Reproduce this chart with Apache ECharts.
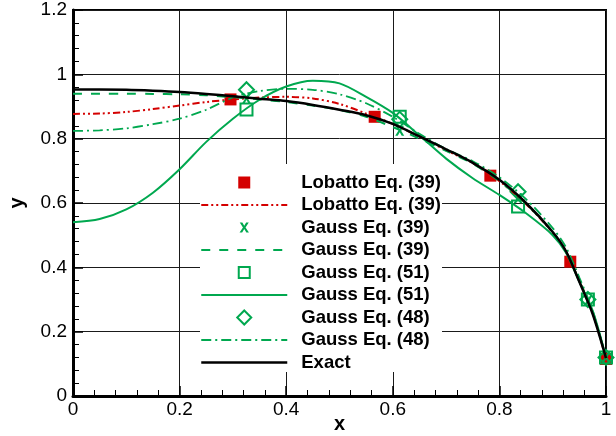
<!DOCTYPE html>
<html>
<head>
<meta charset="utf-8">
<style>
  html, body { margin: 0; padding: 0; background: #fff; }
  #chart { width: 616px; height: 436px; }
</style>
<script src="https://cdn.jsdelivr.net/npm/echarts@6/dist/echarts.min.js"></script>
</head>
<body>
<div id="chart"></div>
<script>
// Collocation nodes
const lobattoX = [0.2955, 0.566, 0.783, 0.933, 1.0];
const gaussX = [0.3255, 0.613, 0.835, 0.966, 1.0];

// Nodal values
const lobattoPts = [0.922, 0.868, 0.685, 0.4175, 0.115];
const gauss39Pts = [0.925, 0.825, 0.615, 0.295, 0.12];
const gauss51Pts = [0.891, 0.868, 0.589, 0.30, 0.12];
const gauss48Pts = [0.952, 0.86, 0.635, 0.30, 0.12];

// Sampling abscissae for the continuous curves
const curveX = [0, 0.05, 0.1, 0.15, 0.2, 0.25, 0.3, 0.35, 0.4, 0.45, 0.5, 0.55,
                0.6, 0.65, 0.7, 0.75, 0.8, 0.85, 0.9, 0.925, 0.95, 0.975, 1.0];

const lobattoCurve = [0.877, 0.878, 0.883, 0.892, 0.903, 0.914, 0.922, 0.928, 0.930, 0.925, 0.908, 0.878,
                      0.846, 0.806, 0.764, 0.724, 0.668, 0.597, 0.508, 0.448, 0.358, 0.26, 0.115];
const gauss39Curve = [0.940, 0.940, 0.940, 0.939, 0.938, 0.935, 0.929, 0.922, 0.914, 0.903, 0.889, 0.868,
                      0.836, 0.800, 0.762, 0.722, 0.668, 0.598, 0.510, 0.448, 0.357, 0.258, 0.12];
const gauss51Curve = [0.540, 0.550, 0.580, 0.632, 0.705, 0.790, 0.862, 0.921, 0.962, 0.980, 0.972, 0.930,
                      0.880, 0.810, 0.738, 0.677, 0.625, 0.568, 0.500, 0.445, 0.355, 0.265, 0.12];
const gauss48Curve = [0.824, 0.826, 0.832, 0.845, 0.862, 0.890, 0.928, 0.948, 0.955, 0.952, 0.938, 0.910,
                      0.868, 0.815, 0.768, 0.730, 0.680, 0.612, 0.522, 0.462, 0.368, 0.265, 0.12];
const exactCurve   = [0.953, 0.953, 0.952, 0.949, 0.945, 0.939, 0.932, 0.924, 0.917, 0.905, 0.890, 0.873,
                      0.846, 0.807, 0.767, 0.725, 0.672, 0.600, 0.510, 0.450, 0.355, 0.255, 0.118];

// Legend labels, in display order
const legendLabels = ['Lobatto Eq. (39)', 'Lobatto Eq. (39)', 'Gauss Eq. (39)', 'Gauss Eq. (39)',
                      'Gauss Eq. (51)', 'Gauss Eq. (51)', 'Gauss Eq. (48)', 'Gauss Eq. (48)', 'Exact'];

const RED = '#d40000';
const GREEN = '#00a84f';

const zip = (xs, ys) => xs.map((x, i) => [x, ys[i]]);
// Series ids keep each legend row distinct; the legend shows only the label part
const sid = (i) => legendLabels[i] + '#' + i;

const crossPath = 'path://M0,0h2.6l1.9,3.3l1.9,-3.3h2.6l-3.2,4.9l3.4,5.1h-2.6l-2.1,-3.5l-2.1,3.5h-2.6l3.4,-5.1z';
const crossLegend = 'path://M0,0M16,16M3.5,3h2.6l1.9,3.3l1.9,-3.3h2.6l-3.2,4.9l3.4,5.1h-2.6l-2.1,-3.5l-2.1,3.5h-2.6l3.4,-5.1z';

function lineSeries(i, ys, color, width, dash) {
  return {
    name: sid(i), type: 'line', data: zip(curveX, ys),
    smooth: 0.3, symbol: 'none', showSymbol: false,
    lineStyle: { color: color, width: width, type: dash || 'solid' },
    itemStyle: { color: color },
    emphasis: { disabled: true }, animation: false
  };
}
function pointSeries(i, xs, ys, symbol, size, itemStyle) {
  return {
    name: sid(i), type: 'scatter', data: zip(xs, ys),
    symbol: symbol, symbolSize: size, itemStyle: Object.assign({ opacity: 1 }, itemStyle),
    emphasis: { disabled: true }, animation: false, clip: false
  };
}

const axisCommon = {
  type: 'value',
  interval: 0.2,
  axisLine: { show: true, onZero: false, lineStyle: { color: '#000', width: 3 } },
  axisTick: { show: true, inside: true, length: 10, lineStyle: { color: '#000', width: 1.5 } },
  minorTick: { show: true, splitNumber: 5, length: 6, lineStyle: { color: '#000', width: 1 } },
  splitLine: { show: true, lineStyle: { color: '#1a1a1a', width: 1 } },
  axisLabel: {
    color: '#000', fontFamily: 'Liberation Sans', fontSize: 19,
    formatter: (v) => String(+v.toFixed(2))
  },
  nameLocation: 'middle',
  nameMoveOverlap: false,
  nameTextStyle: { color: '#000', fontFamily: 'Liberation Sans', fontWeight: 'bold', fontSize: 20 }
};

const option = {
  animation: false,
  backgroundColor: '#fff',
  grid: { left: 73, right: 10, top: 10, bottom: 40, outerBoundsMode: 'none', containLabel: false,
          show: true, borderColor: '#000', borderWidth: 2 },
  xAxis: Object.assign({}, axisCommon, {
    min: 0, max: 1, name: 'x', nameGap: 18,
    axisLabel: Object.assign({}, axisCommon.axisLabel, { margin: 4 })
  }),
  yAxis: Object.assign({}, axisCommon, {
    min: 0, max: 1.2, name: 'y', nameGap: 46, nameRotate: 90,
    axisLabel: Object.assign({}, axisCommon.axisLabel, { margin: 6 })
  }),
  legend: {
    orient: 'vertical',
    left: 200, top: 164,
    padding: [9, 1, 0, 0],
    backgroundColor: '#fff',
    itemWidth: 86, itemHeight: 16, itemGap: 3.5,
    selectedMode: false,
    formatter: (name) => name.split('#')[0],
    textStyle: { color: '#000', fontFamily: 'Liberation Sans', fontWeight: 'bold',
                 fontSize: 18.5, lineHeight: 18, padding: [0, 0, 0, 9] },
    data: [
      { name: sid(0), icon: 'path://M0,0M16,16M2,2h12v12h-12z', itemStyle: { color: RED, borderWidth: 0, opacity: 1 } },
      { name: sid(1), itemStyle: { opacity: 0 }, lineStyle: { width: 2 } },
      { name: sid(2), icon: crossLegend, itemStyle: { color: GREEN, borderWidth: 0, opacity: 1 } },
      { name: sid(3), itemStyle: { opacity: 0 }, lineStyle: { width: 2 } },
      { name: sid(4), icon: 'path://M0,0M16,16M2.5,2.5h11v11h-11z',
        itemStyle: { color: 'rgba(0,0,0,0)', borderColor: GREEN, borderWidth: 2, opacity: 1 } },
      { name: sid(5), itemStyle: { opacity: 0 }, lineStyle: { width: 2 } },
      { name: sid(6), icon: 'path://M0,0M16,16M8,1L15,8L8,15L1,8Z',
        itemStyle: { color: 'rgba(0,0,0,0)', borderColor: GREEN, borderWidth: 2, opacity: 1 } },
      { name: sid(7), itemStyle: { opacity: 0 }, lineStyle: { width: 2 } },
      { name: sid(8), itemStyle: { opacity: 0 }, lineStyle: { width: 2.5 } }
    ]
  },
  series: [
    pointSeries(0, lobattoX, lobattoPts, 'rect', 12, { color: RED }),
    lineSeries(1, lobattoCurve, RED, 2, [7, 3, 2, 3, 2, 3]),
    pointSeries(2, gaussX, gauss39Pts, crossPath, [9, 10], { color: GREEN }),
    lineSeries(3, gauss39Curve, GREEN, 2, [9, 9]),
    pointSeries(4, gaussX, gauss51Pts, 'rect', 12,
                { color: 'rgba(0,0,0,0)', borderColor: GREEN, borderWidth: 2 }),
    lineSeries(5, gauss51Curve, GREEN, 2),
    pointSeries(6, gaussX, gauss48Pts, 'diamond', 15,
                { color: 'rgba(0,0,0,0)', borderColor: GREEN, borderWidth: 2 }),
    lineSeries(7, gauss48Curve, GREEN, 1.8, [10, 4, 2, 4]),
    lineSeries(8, exactCurve, '#000', 2.5)
  ]
};

const chart = echarts.init(document.getElementById('chart'), null, { renderer: 'canvas' });
chart.setOption(option);
</script>
</body>
</html>
